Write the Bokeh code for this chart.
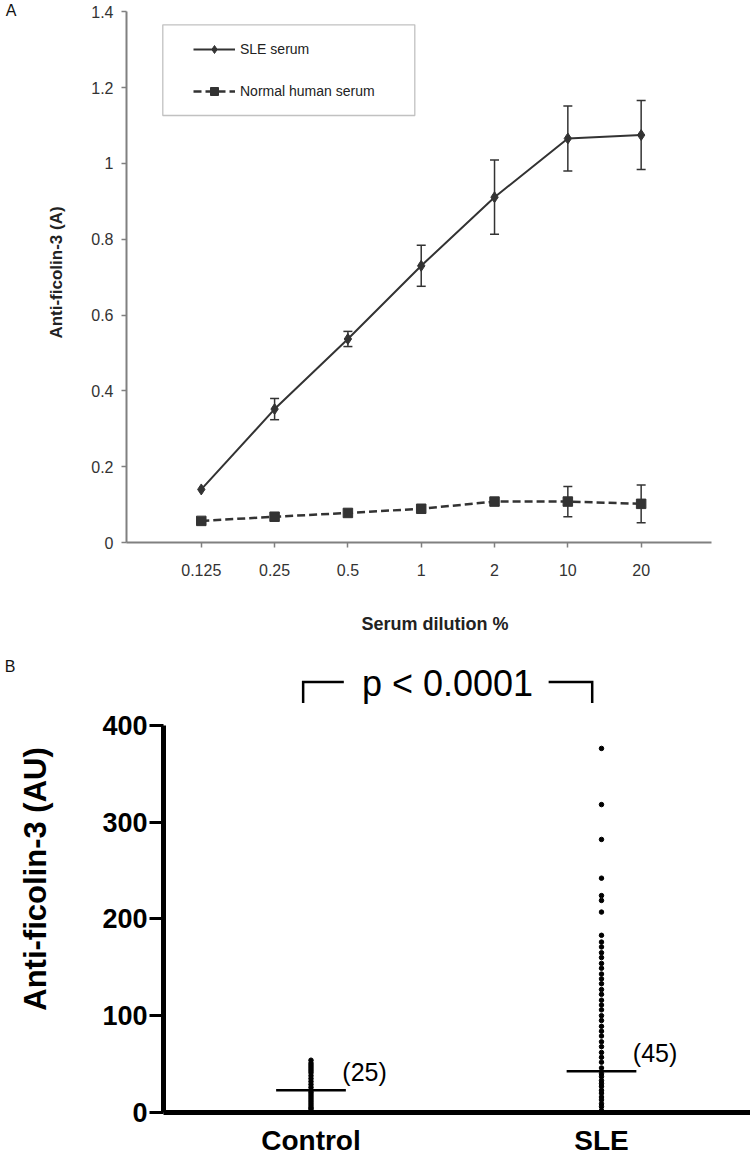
from bokeh.plotting import figure
from bokeh.models import (Range1d, FixedTicker, Whisker, TeeHead, ColumnDataSource,
                          Legend, LegendItem, Label, BoxAnnotation, LinearAxis,
                          CustomJSTickFormatter)
from bokeh.layouts import column
from bokeh.core.properties import value
from bokeh.embed import file_html
from bokeh.resources import INLINE

FONT = "Liberation Sans"
DARK = "#333333"

# ---------------- Panel A data ----------------
dilution_labels = ["0.125", "0.25", "0.5", "1", "2", "10", "20"]
sle_mean = [0.140, 0.352, 0.537, 0.730, 0.911, 1.066, 1.075]
sle_err = [0.000, 0.028, 0.020, 0.054, 0.098, 0.086, 0.091]
nhs_mean = [0.057, 0.068, 0.078, 0.089, 0.108, 0.108, 0.102]
nhs_err = [0.000, 0.000, 0.000, 0.000, 0.000, 0.040, 0.050]
yticks_a = [0, 0.2, 0.4, 0.6, 0.8, 1, 1.2, 1.4]
series_names = ["SLE serum", "Normal human serum"]

# ---------------- Panel B data ----------------
groups = ["Control", "SLE"]
control_values = [54, 51, 49, 47, 45, 43, 41, 38, 35, 32, 29, 26, 23,
                  21, 19, 17, 15, 13, 11, 9, 7, 5, 4, 2, 1]
sle_values = [376, 318, 282, 242, 224, 219, 207, 183,
              176, 171, 165, 160, 154, 149, 143, 138, 133, 127, 122, 116, 111,
              106, 100, 95, 89, 84, 79, 73, 68, 62, 57, 52, 46,
              40, 37, 33, 30, 27, 23, 20, 16, 13, 9, 6, 2]
group_lines = [23, 42.5]
group_counts = ["(25)", "(45)"]
yticks_b = [0, 100, 200, 300, 400]
p_text = "p < 0.0001"


def no_align(p):
    if "frame_align" in p.properties():
        p.frame_align = False


def text_axis(text, tick, standoff, size, style="normal", color="#111111"):
    """An invisible extra axis whose single tick label carries a panel letter."""
    a = LinearAxis(ticker=FixedTicker(ticks=[tick]),
                   formatter=CustomJSTickFormatter(code="return %r;" % text))
    a.axis_line_color = None
    a.major_tick_line_color = None
    a.minor_tick_line_color = None
    a.major_tick_out = 0
    a.major_tick_in = 0
    a.major_label_standoff = standoff
    a.major_label_text_font = FONT
    a.major_label_text_font_size = size
    a.major_label_text_font_style = style
    a.major_label_text_color = color
    return a


# ======================= Panel A =======================
xa = list(range(len(dilution_labels)))
p1 = figure(width=750, height=640, output_backend="svg", toolbar_location=None,
            x_range=Range1d(-1.02, 7.396), y_range=Range1d(0, 1.4248),
            min_border_left=126, min_border_right=7, min_border_top=2,
            min_border_bottom=98)
no_align(p1)
p1.outline_line_color = None
p1.grid.visible = False

ax = p1.xaxis[0]
ax.ticker = FixedTicker(ticks=xa)
ax.major_label_overrides = {i: lab for i, lab in enumerate(dilution_labels)}
ax.bounds = (-1.02, 6.96)
ay = p1.yaxis[0]
ay.ticker = FixedTicker(ticks=yticks_a)
ay.major_label_overrides = {0: "0", 1: "1"}
ay.bounds = (0, 1.4)
for a in (ax, ay):
    a.minor_tick_line_color = None
    a.axis_line_color = "#808080"
    a.axis_line_width = 2
    a.major_tick_line_color = "#808080"
    a.major_tick_line_width = 1.5
    a.major_tick_out = 5
    a.major_tick_in = 0
    a.major_label_text_font = FONT
    a.major_label_text_font_size = "16px"
    a.major_label_text_color = "#333333"
    a.axis_label_text_font = FONT
    a.axis_label_text_font_style = "bold"
    a.axis_label_text_color = "#222222"
ax.major_label_standoff = 16
ay.major_label_standoff = 8
ay.axis_label = "Anti-ficolin-3 (A)"
ay.axis_label_text_font_size = "17px"
ay.axis_label_standoff = 22
ax.axis_label = "Serum dilution %"
ax.axis_label_text_font_size = "18px"
ax.axis_label_standoff = 35
p1.add_layout(text_axis("A", 1.404, 28, "16px"), "left")

src_a = ColumnDataSource(dict(x=xa, sle=sle_mean, nhs=nhs_mean))
sle_line = p1.line("x", "sle", source=src_a, line_color=DARK, line_width=2)
sle_pts = p1.scatter("x", "sle", source=src_a, marker="diamond", size=11,
                     color=DARK)
nhs_line = p1.line("x", "nhs", source=src_a, line_color=DARK, line_width=2.5,
                   line_dash="8 4")
nhs_pts = p1.scatter("x", "nhs", source=src_a, marker="square", size=9.5,
                     color=DARK)

for mean, err in ((sle_mean, sle_err), (nhs_mean, nhs_err)):
    idx = [i for i, e in enumerate(err) if e > 0]
    wsrc = ColumnDataSource(dict(base=[xa[i] for i in idx],
                                 upper=[mean[i] + err[i] for i in idx],
                                 lower=[mean[i] - err[i] for i in idx]))
    p1.add_layout(Whisker(source=wsrc, base="base", upper="upper", lower="lower",
                          dimension="height", line_color=DARK, line_width=1.5,
                          upper_head=TeeHead(size=9, line_color=DARK, line_width=1.5),
                          lower_head=TeeHead(size=9, line_color=DARK, line_width=1.5)))

legend = Legend(items=[LegendItem(label=series_names[0], renderers=[sle_line, sle_pts]),
                       LegendItem(label=series_names[1], renderers=[nhs_line, nhs_pts])],
                location=(37, 411), orientation="vertical", padding=30, spacing=22,
                margin=0, glyph_width=42, glyph_height=20, label_height=20,
                label_standoff=5, label_text_font=FONT, label_text_font_size="14px",
                label_text_color="#222222", border_line_alpha=0,
                background_fill_alpha=0)
p1.add_layout(legend)
p1.add_layout(BoxAnnotation(left=36.3, right=288.3, bottom=427, top=517.7,
                            left_units="screen", right_units="screen",
                            top_units="screen", bottom_units="screen",
                            fill_alpha=0, line_color=DARK, line_width=1.3))

# ======================= Panel B =======================
gx = [1, 2]
p2 = figure(width=750, height=518, output_backend="svg", toolbar_location=None,
            x_range=Range1d(0.4923, 2.5129), y_range=Range1d(0, 482.3),
            min_border_left=163, min_border_right=0, min_border_top=5,
            min_border_bottom=44)
no_align(p2)
p2.outline_line_color = None
p2.grid.visible = False

bx = p2.xaxis[0]
bx.ticker = FixedTicker(ticks=gx)
bx.major_label_overrides = {g: name for g, name in zip(gx, groups)}
bx.major_tick_out = 0
bx.major_tick_in = 0
bx.minor_tick_line_color = None
bx.axis_line_width = 5
bx.axis_line_color = "black"
bx.major_label_text_font = FONT
bx.major_label_text_font_size = "28px"
bx.major_label_text_font_style = "bold"
bx.major_label_text_color = "black"
bx.major_label_standoff = 12

by = p2.yaxis[0]
by.ticker = FixedTicker(ticks=yticks_b)
by.bounds = (0, 400)
by.minor_tick_line_color = None
by.axis_line_width = 5
by.axis_line_color = "black"
by.major_tick_line_width = 3
by.major_tick_line_color = "black"
by.major_tick_out = 14
by.major_tick_in = 0
by.major_label_text_font = FONT
by.major_label_text_font_size = "27px"
by.major_label_text_font_style = "bold"
by.major_label_text_color = "black"
by.major_label_standoff = 2
by.axis_label = "Anti-ficolin-3 (AU)"
by.axis_label_text_font = FONT
by.axis_label_text_font_size = "31px"
by.axis_label_text_font_style = "bold"
by.axis_label_text_color = "black"
by.axis_label_standoff = 46
p2.add_layout(text_axis("B", 460.7, 0, "16px"), "left")

group_values = [control_values, sle_values]
for g, vals in zip(gx, group_values):
    p2.scatter([g] * len(vals), vals, marker="circle", size=4.5, color="black")

half = 0.12
p2.segment(x0=[g - half for g in gx], x1=[g + half for g in gx],
           y0=group_lines, y1=group_lines, line_color="black", line_width=2.5)
p2.text(x=[g + half - 0.012 for g in gx], y=[m + 19 for m in group_lines],
        text=group_counts, text_font=value(FONT), text_font_size="25px",
        text_baseline="middle", text_align="left", text_color="black")

# significance bracket between the two groups
b_top, b_bot = 444.5, 423
bl, br = gx[0] - 0.027, gx[1] - 0.032
p2.multi_line(xs=[[bl, bl, bl + 0.14], [br - 0.15, br, br]],
              ys=[[b_bot, b_top, b_top], [b_top, b_top, b_bot]],
              line_color="black", line_width=2.5, line_join="miter")
p2.add_layout(Label(x=(gx[0] + gx[1]) / 2 - 0.03, y=443, text=p_text,
                    text_font=FONT, text_font_size="36px", text_baseline="middle",
                    text_align="center", text_color="black"))

layout = column(p1, p2, spacing=0)
open("out.html", "w").write(file_html(layout, INLINE))
